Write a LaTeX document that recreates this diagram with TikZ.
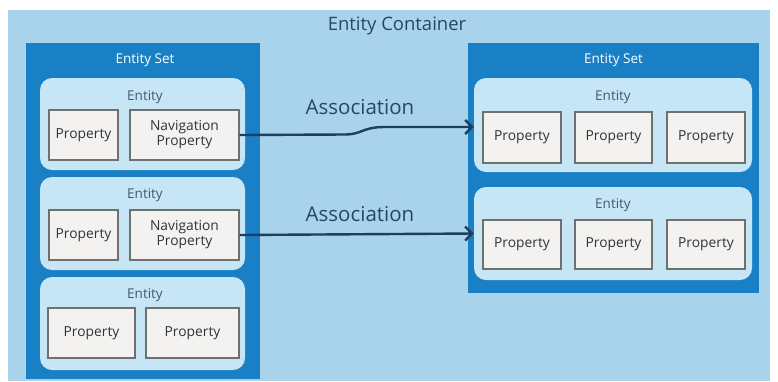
\documentclass[tikz,border=0pt]{standalone}
\usepackage{fontspec}
\setmainfont{Open Sans}
\usetikzlibrary{arrows.meta}

\definecolor{bgblue}{HTML}{A8D3EA}
\definecolor{setblue}{HTML}{1A80C6}
\definecolor{entblue}{HTML}{C6E5F5}
\definecolor{propfill}{HTML}{F3F2F0}
\definecolor{propline}{HTML}{707070}
\definecolor{assocblue}{HTML}{1D3D62}
\definecolor{titleblue}{HTML}{27466A}

\begin{document}
\begin{tikzpicture}[x=1pt, y=-1pt,
	container/.style={fill=bgblue, draw=none, inner sep=0},
	eset/.style={fill=setblue, draw=none, inner sep=0},
	entity/.style={fill=entblue, draw=none, rounded corners=12pt, inner sep=0},
	prop/.style={fill=propfill, draw=propline, line width=1.3pt, inner sep=0, align=center, text=black!80, font=\fontsize{13.8}{15}\selectfont},
	bigtitle/.style={text=titleblue, font=\fontsize{18.5}{20}\selectfont},
	settitle/.style={text=white, font=\fontsize{13.5}{15}\selectfont},
	enttitle/.style={text=titleblue!90, font=\fontsize{13.5}{15}\selectfont},
	assocline/.style={draw=assocblue, line width=2.4pt, -{Straight Barb[length=7pt, width=14pt]}},
	assoclabel/.style={text=titleblue, font=\fontsize{20.5}{22}\selectfont}]
	\useasboundingbox (0,0) rectangle (778,381);
	\fill[white] (0,0) rectangle (778,381);
	% container
	\node[container, minimum width=762pt, minimum height=371pt] (cont) at (389,195.5) {};
	\node[bigtitle] (conttitle) at (397,26) {Entity Container};
	% entity sets
	\node[eset, minimum width=234pt, minimum height=336pt] (lset) at (143,211) {};
	\node[settitle] (lsettitle) at (145,60) {Entity Set};
	\node[eset, minimum width=291pt, minimum height=250pt] (rset) at (613.5,168) {};
	\node[settitle] (rsettitle) at (613.5,60) {Entity Set};
	% left entities
	\node[entity, minimum width=205pt, minimum height=92pt] (le1) at (142.5,124) {};
	\node[enttitle] (le1title) at (145,97) {Entity};
	\node[prop, minimum width=69pt, minimum height=50pt] (lp1) at (83.5,135) {Property};
	\node[prop, minimum width=109pt, minimum height=50pt] (ln1) at (184.5,135) {Navigation\\Property};
	\node[entity, minimum width=205pt, minimum height=93pt] (le2) at (142.5,223.5) {};
	\node[enttitle] (le2title) at (145,195) {Entity};
	\node[prop, minimum width=69pt, minimum height=50pt] (lp2) at (83.5,235) {Property};
	\node[prop, minimum width=109pt, minimum height=50pt] (ln2) at (184.5,235) {Navigation\\Property};
	\node[entity, minimum width=205pt, minimum height=93pt] (le3) at (142.5,323.5) {};
	\node[enttitle] (le3title) at (145,295) {Entity};
	\node[prop, minimum width=87pt, minimum height=50pt] (lp3a) at (91.5,333) {Property};
	\node[prop, minimum width=93pt, minimum height=50pt] (lp3b) at (192.5,333) {Property};
	% right entities
	\node[entity, minimum width=278pt, minimum height=94pt] (re1) at (613,125) {};
	\node[enttitle] (re1title) at (613,97) {Entity};
	\node[prop, minimum width=78pt, minimum height=51pt] (rp1a) at (522,137.5) {Property};
	\node[prop, minimum width=77pt, minimum height=51pt] (rp1b) at (613.5,137.5) {Property};
	\node[prop, minimum width=78pt, minimum height=51pt] (rp1c) at (706,137.5) {Property};
	\node[entity, minimum width=278pt, minimum height=93pt] (re2) at (613,233.5) {};
	\node[enttitle] (re2title) at (613,205) {Entity};
	\node[prop, minimum width=78pt, minimum height=49pt] (rp2a) at (522,244.5) {Property};
	\node[prop, minimum width=77pt, minimum height=49pt] (rp2b) at (613.5,244.5) {Property};
	\node[prop, minimum width=78pt, minimum height=49pt] (rp2c) at (706,244.5) {Property};
	% associations
	\coordinate (a1end) at (re1.west |- 0,127);
	\draw[assocline] (ln1.east) -- (345,134.5) .. controls (362,134.5) and (362,127) .. (385,127) -- (a1end);
	\node[assoclabel] (a1label) at (360,107) {Association};
	\draw[assocline] (ln2.east) -- (re2.west);
	\node[assoclabel] (a2label) at (360,214) {Association};
\end{tikzpicture}
\end{document}
